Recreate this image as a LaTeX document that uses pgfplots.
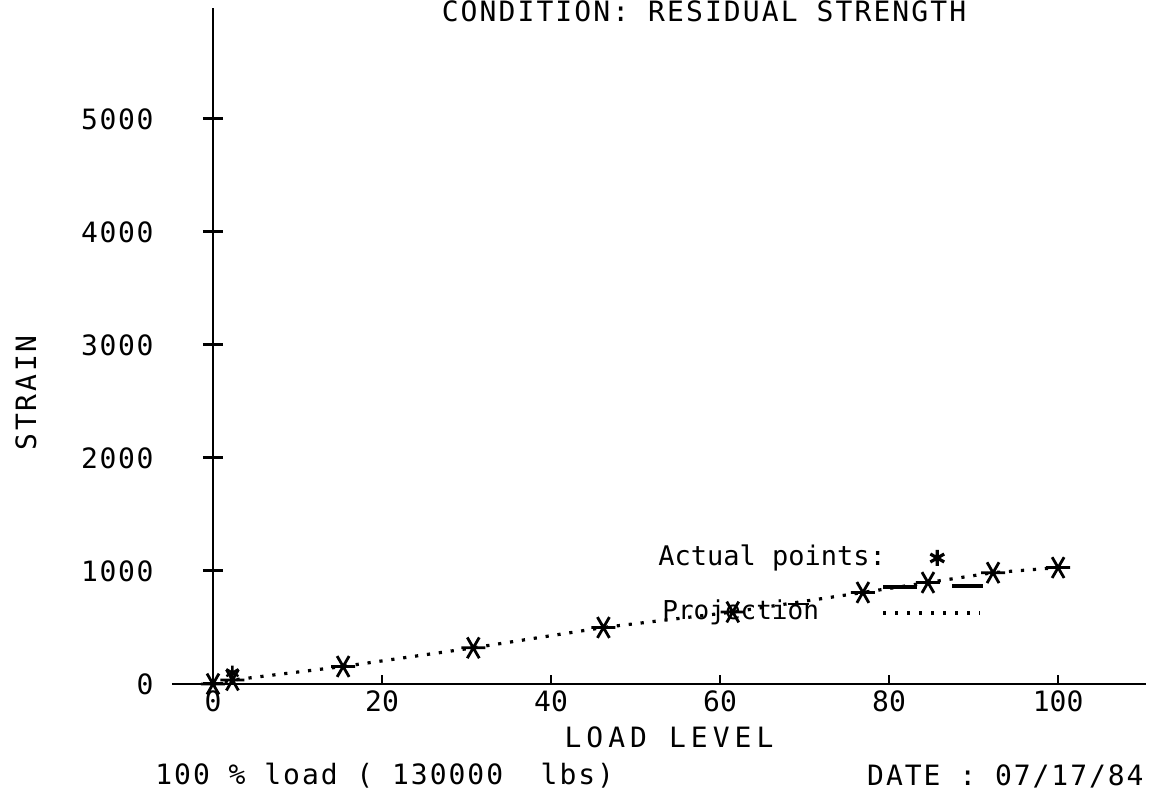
\documentclass[border=0pt]{standalone}
\usepackage{pgfplots}
\pgfplotsset{compat=1.18}
\usepackage{fontspec}
\setmainfont{DejaVu Sans Mono}
\pgfplotstableread{
x y
0 0
2.3 35
15.4 155
30.8 320
46.2 500
61.5 637
76.9 810
84.6 898
92.3 985
100 1030
}\strain
\begin{document}
\begin{tikzpicture}[font=\fontsize{14}{16}\selectfont]
\begin{axis}[
  at={(0pt,0pt)}, anchor=south west,
  scale only axis, width=487pt, height=338pt,
  xmin=-4.85, xmax=110.4, ymin=0, ymax=5982,
  axis x line*=bottom, axis y line*=center,
  hide obscured x ticks=false, hide obscured y ticks=false,
  axis line style={line width=1.4pt, black},
  xtick={0,20,40,60,80,100},
  minor xtick={20,40,60,80,100},
  major x tick style={draw=none},
  minor x tick style={line width=1pt, black},
  minor tick length=4.5pt,
  xtick align=inside,
  ytick={0,1000,2000,3000,4000,5000},
  ytick align=center,
  major tick length=10pt,
  major y tick style={line width=1.5pt, black},
  /pgf/number format/assume math mode=true,
  /pgf/number format/1000 sep={},
  scaled y ticks=false,
  yticklabel style={anchor=east, inner sep=0pt, xshift=-24.5pt, font=\fontsize{14}{16}\selectfont\addfontfeatures{LetterSpace=6}},
  xticklabel style={anchor=north, inner sep=0pt, yshift=-3pt, font=\fontsize{14}{16}\selectfont},
  clip=false,
]
\addplot[black, line width=1.6pt, dash pattern=on 1.6pt off 4.4pt,
  mark=asterisk, mark size=6pt, mark options={solid, rotate=90, line width=1.4pt}] table {\strain};
\addplot[only marks, black, mark=asterisk, mark size=3.5pt, mark options={line width=1.2pt}] coordinates {(2.3,100)};
% legend marker and line
\addplot[only marks, black, mark=asterisk, mark size=4pt, mark options={line width=1.6pt}] coordinates {(85.7,1115)};
\addplot[black, line width=1.6pt, dash pattern=on 1.6pt off 4.4pt, no marks] coordinates {(79.3,628) (90.8,628)};
% solid plotter segments
\addplot[black, line width=1.6pt, no marks] coordinates {(79.3,858) (83.3,858)};
\addplot[black, line width=1.6pt, no marks] coordinates {(87.5,867) (91.1,867)};
\addplot[black, line width=1.2pt, no marks] coordinates {(68.0,708) (70.5,708)};
\end{axis}
\node[anchor=base, inner sep=0pt, font=\fontsize{14}{16}\selectfont\addfontfeatures{LetterSpace=7.5}] at (266pt,331pt) {CONDITION: RESIDUAL STRENGTH};
\node[rotate=90, inner sep=0pt, font=\fontsize{14}{16}\selectfont\addfontfeatures{LetterSpace=10}] at (-73pt,145.5pt) {STRAIN};
\node[inner sep=0pt, font=\fontsize{14}{16}\selectfont\addfontfeatures{LetterSpace=18}] at (248.5pt,-26.5pt) {LOAD LEVEL};
\node[anchor=west, inner sep=0pt, font=\fontsize{14}{16}\selectfont\addfontfeatures{LetterSpace=7}] at (-8.5pt,-46pt) {100 \% load ( 130000 \ lbs)};
\node[anchor=east, inner sep=0pt, font=\fontsize{14}{16}\selectfont\addfontfeatures{LetterSpace=7}] at (486pt,-46pt) {DATE : 07/17/84};
\node[anchor=base west, inner sep=0pt, font=\fontsize{13.5}{16}\selectfont] at (243pt,59pt) {Actual points:};
\node[anchor=base west, inner sep=0pt, font=\fontsize{13}{15}\selectfont] at (245pt,32pt) {Projection};
\pgfresetboundingbox
\path[use as bounding box] (-86pt,-56pt) rectangle (491.5pt,342pt);
\end{tikzpicture}
\end{document}
